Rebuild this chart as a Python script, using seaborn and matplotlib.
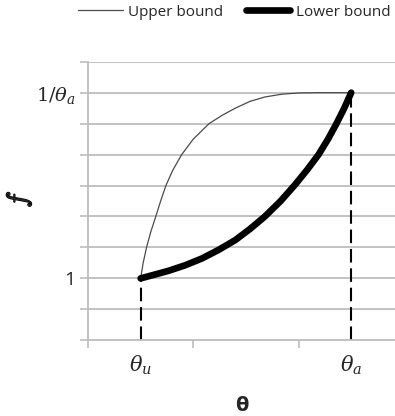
import matplotlib
matplotlib.use("Agg")
import matplotlib.pyplot as plt
import matplotlib.patheffects as pe
import seaborn as sns
import pandas as pd

# data (axis units: x in 0.5 steps, y in 0.5 steps)
upper_x = [0.25, 0.262, 0.278, 0.298, 0.322, 0.345, 0.370, 0.403, 0.445, 0.500, 0.575,
           0.640, 0.700, 0.770, 0.840, 0.920, 1.000, 1.100, 1.250]
upper_y = [1.00, 1.25, 1.50, 1.75, 2.00, 2.25, 2.50, 2.75, 3.00, 3.25, 3.50,
           3.64, 3.75, 3.86, 3.93, 3.975, 3.995, 4.00, 4.00]
lower_x = [0.25, 0.31, 0.38, 0.46, 0.54, 0.62, 0.70, 0.77, 0.84, 0.915, 0.98,
           1.04, 1.095, 1.14, 1.18, 1.217, 1.25]
lower_y = [1.00, 1.055, 1.12, 1.21, 1.32, 1.46, 1.62, 1.80, 2.00, 2.25, 2.50,
           2.75, 3.00, 3.25, 3.50, 3.75, 4.00]
theta_u, theta_a = 0.25, 1.25
f_low, f_high = 1.0, 4.0
series_names = ["Upper bound", "Lower bound"]
xtick_labels = [r"$\theta_u$", r"$\theta_a$"]
ytick_labels = {1.0: "1", 4.0: r"$1/\theta_a$"}

sns.set_style("white")
plt.rcParams["font.family"] = ["Open Sans", "DejaVu Sans"]
plt.rcParams["mathtext.fontset"] = "dejavuserif"

fig = plt.figure(figsize=(3.95, 4.16), dpi=100)
ax = fig.add_axes([88 / 395, 1 - 340.3 / 416, 1 - 88 / 395, (340.3 - 61.7) / 416])

df_u = pd.DataFrame({"x": upper_x, "y": upper_y})
df_l = pd.DataFrame({"x": lower_x, "y": lower_y})

grid_c = "#bdbdbd"
ax.set_xlim(0, 1.458)
ax.set_ylim(0, 4.5)
for v in [0.5 * i for i in range(1, 10)]:
    ax.axhline(v, color=grid_c, lw=1.3, zorder=0)

dash = (0, (6.5, 2.8))
ax.plot([theta_u, theta_u], [0, f_low], ls=dash, color="black", lw=1.5, zorder=2)
ax.plot([theta_a, theta_a], [0, f_high], ls=dash, color="black", lw=1.5, zorder=2)

sns.lineplot(data=df_u, x="x", y="y", ax=ax, color="#4a4a4a", lw=0.9, sort=False,
             label=series_names[0], zorder=3)
sns.lineplot(data=df_l, x="x", y="y", ax=ax, color="black", lw=4.8, sort=False,
             label=series_names[1], zorder=4, solid_capstyle="round",
             solid_joinstyle="round")

for s in ["top", "right"]:
    ax.spines[s].set_visible(False)
for s in ["left", "bottom"]:
    ax.spines[s].set_color(grid_c)
    ax.spines[s].set_linewidth(1.3)

yt = [0.5 * i for i in range(0, 10)]
ax.set_yticks(yt)
ax.set_yticklabels([ytick_labels.get(v, "") for v in yt], fontsize=14)
ax.tick_params(axis="y", length=6, width=1.2, color=grid_c, pad=3, left=True)

ax.set_xticks([theta_u, theta_a])
ax.set_xticklabels(xtick_labels, fontsize=15)
ax.tick_params(axis="x", length=0, pad=10)
ax.set_xticks([0, 0.5, 1.0], minor=True)
ax.tick_params(axis="x", which="minor", length=6, width=1.2, color=grid_c, bottom=True)

ax.set_xlabel("θ", fontsize=14, fontweight="bold", family="DejaVu Sans")
ax.xaxis.set_label_coords(0.5, (340.3 - 396) / 278.6)
ax.set_ylabel("$f$", fontsize=20, math_fontfamily="cm", rotation=90,
              path_effects=[pe.withStroke(linewidth=0.9, foreground="black")])
ax.yaxis.set_label_coords((33 - 88) / 307, 0.507)

ax.get_legend().remove()
h, l = ax.get_legend_handles_labels()
fig.legend(h, l, loc="center", bbox_to_anchor=(0.593, 0.971), ncol=2, frameon=False,
           fontsize=11, handlelength=2.9, handletextpad=0.35, columnspacing=1.5)

fig.savefig("out.png", dpi=100)
